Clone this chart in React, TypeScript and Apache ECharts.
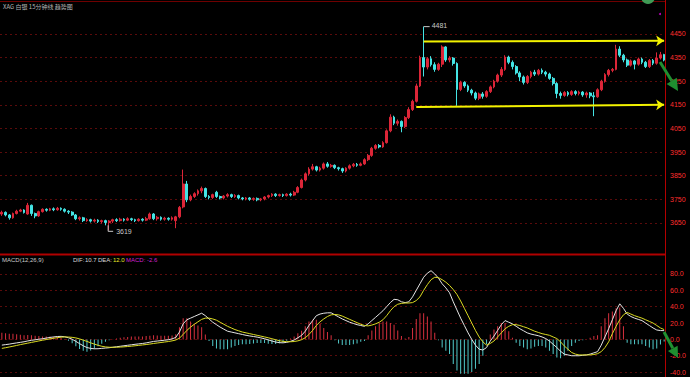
import React, { useEffect, useRef } from "react";
import * as echarts from "echarts";

const titleText = "XAG 白银 15分钟线 趋势图";
const macdTitle = "MACD(12,26,9)";

// [open, close, low, high]
const ohlc: number[][] = [
  [3688,3695,3680,3702],[3695,3684,3678,3699],[3684,3672,3664,3688],[3672,3690,3668,3694],[3690,3700,3686,3706],
  [3700,3705,3696,3710],[3705,3694,3690,3708],[3688,3725,3685,3735],[3725,3690,3680,3728],[3690,3680,3670,3694],
  [3680,3698,3676,3702],[3698,3708,3694,3712],[3708,3704,3698,3712],[3704,3710,3700,3714],[3710,3706,3700,3716],
  [3706,3712,3702,3718],[3712,3708,3702,3716],[3708,3700,3694,3712],[3700,3696,3688,3704],[3696,3684,3680,3700],
  [3684,3668,3662,3688],[3668,3672,3660,3678],[3672,3660,3654,3676],[3660,3664,3655,3670],[3664,3658,3652,3668],
  [3658,3662,3652,3668],[3662,3656,3650,3666],[3656,3660,3648,3664],[3660,3652,3640,3664],[3652,3658,3619,3662],
  [3658,3664,3650,3668],[3664,3660,3654,3670],[3660,3666,3656,3672],[3666,3662,3656,3670],[3662,3668,3658,3674],
  [3668,3664,3658,3672],[3664,3660,3654,3668],[3660,3666,3656,3670],[3666,3662,3656,3670],[3662,3668,3658,3676],
  [3668,3688,3664,3694],[3688,3668,3662,3692],[3668,3674,3660,3680],[3674,3666,3660,3678],[3666,3670,3660,3676],
  [3670,3666,3660,3674],[3666,3672,3660,3678],[3660,3676,3628,3680],[3676,3716,3670,3722],[3718,3815,3712,3876],
  [3815,3748,3738,3828],[3748,3762,3742,3770],[3762,3774,3756,3780],[3774,3786,3766,3792],[3786,3796,3776,3804],
  [3796,3762,3756,3800],[3762,3758,3750,3768],[3758,3770,3752,3774],[3780,3762,3756,3786],[3762,3756,3750,3766],
  [3756,3764,3750,3768],[3764,3770,3758,3776],[3770,3762,3756,3774],[3762,3766,3756,3772],[3766,3756,3750,3770],
  [3756,3752,3746,3760],[3752,3756,3746,3760],[3756,3750,3744,3760],[3750,3754,3744,3758],[3754,3748,3742,3758],
  [3748,3752,3742,3756],[3752,3760,3746,3764],[3760,3766,3754,3770],[3766,3772,3760,3776],[3772,3766,3760,3776],
  [3766,3770,3762,3774],[3770,3766,3760,3774],[3766,3772,3762,3776],[3772,3768,3762,3778],[3768,3780,3764,3786],
  [3780,3800,3776,3806],[3800,3832,3796,3838],[3832,3858,3826,3864],[3858,3878,3850,3886],[3878,3888,3872,3900],
  [3888,3874,3868,3892],[3874,3882,3868,3888],[3882,3900,3876,3906],[3900,3890,3884,3908],[3890,3894,3884,3900],
  [3894,3884,3878,3898],[3884,3880,3872,3888],[3880,3870,3862,3884],[3870,3882,3864,3886],[3882,3892,3876,3898],
  [3892,3898,3886,3904],[3898,3894,3888,3904],[3894,3900,3890,3906],[3900,3918,3896,3924],[3918,3936,3912,3942],
  [3936,3966,3930,3972],[3966,3978,3960,3984],[3978,3972,3966,3984],[3972,3990,3968,3996],[3990,4040,3986,4046],
  [4040,4098,4034,4110],[4098,4072,4064,4104],[4072,4080,4062,4088],[4080,4058,4034,4084],[4058,4096,4052,4102],
  [4096,4130,4090,4140],[4130,4165,4124,4172],[4165,4230,4160,4240],[4230,4350,4225,4358],[4350,4310,4270,4481],
  [4310,4345,4300,4352],[4345,4320,4312,4356],[4320,4300,4290,4330],[4300,4322,4294,4328],[4322,4395,4310,4402],
  [4395,4340,4332,4398],[4340,4348,4330,4356],[4348,4325,4316,4352],[4325,4215,4146,4330],[4215,4245,4208,4252],
  [4245,4230,4222,4250],[4230,4212,4204,4236],[4212,4200,4190,4218],[4200,4178,4170,4206],[4178,4196,4170,4202],
  [4196,4186,4176,4204],[4186,4206,4180,4212],[4206,4226,4200,4232],[4226,4250,4220,4256],[4250,4276,4244,4282],
  [4276,4300,4268,4310],[4300,4352,4294,4360],[4352,4330,4322,4358],[4330,4312,4300,4338],[4312,4285,4278,4318],
  [4285,4268,4250,4292],[4268,4245,4236,4274],[4245,4270,4238,4276],[4270,4288,4262,4294],[4288,4280,4272,4298],
  [4280,4296,4274,4302],[4296,4288,4280,4304],[4288,4280,4270,4294],[4280,4262,4256,4286],[4262,4240,4232,4268],
  [4240,4198,4178,4246],[4198,4190,4176,4206],[4190,4202,4184,4208],[4202,4194,4186,4208],[4194,4206,4188,4212],
  [4206,4198,4190,4212],[4198,4204,4190,4210],[4204,4192,4184,4208],[4192,4200,4180,4206],[4200,4188,4178,4204],
  [4188,4184,4102,4204],[4184,4214,4180,4220],[4214,4250,4208,4256],[4250,4278,4244,4284],[4278,4296,4270,4302],
  [4296,4300,4288,4306],[4300,4386,4296,4404],[4386,4360,4352,4398],[4360,4340,4330,4366],[4340,4318,4310,4346],
  [4318,4336,4312,4342],[4336,4322,4300,4340],[4322,4344,4316,4350],[4344,4330,4322,4350],[4330,4312,4306,4336],
  [4312,4338,4306,4344],[4338,4326,4318,4344],[4326,4348,4320,4372],[4348,4362,4342,4374],[4362,4340,4334,4366],
];

const dif: number[] = [
  -7, -6.4, -5.8, -5, -4.3, -3.6, -2.9, -1.9, -1.1, -0.5, 0.2, 0.8, 1.6, 2.4, 3, 3.5, 3.7,
  3.2, 2, 0.2, -2.4, -5.2, -7.8, -10, -11, -11.5, -11.4, -11, -10.6, -10.2,
  -9.6, -9, -8.4, -7.8, -7.2, -6.6, -6, -5.5, -5, -4.3, -3.4, -2.5, -2, -1.5, -1, -0.4, 0.6,
  2.4, 9, 19, 24, 26, 28, 30, 32,
  29, 25, 21, 18, 15, 12.5, 10, 9, 8, 7, 6, 5, 4.2, 3.5, 2.8,
  1.8, 0.8, -0.6, -2, -3.2, -4, -4.2, -3.6, -2.4, -0.8, 2, 4.9,
  10, 17, 23, 29, 31, 32, 32.5, 32.5, 30, 27.5, 25, 23, 21, 19.5, 18, 17, 16,
  19, 23, 27, 31, 35, 40, 45, 49, 48.5, 46, 45, 46, 52, 60, 68,
  76, 81, 84, 80, 75, 68, 63, 57, 46, 36, 26, 17, 8, 0, -7, -12, -13, -10, -2, 4, 11, 18, 23, 21, 19,
  16, 13, 10.5, 8, 6.5, 5.5, 4.5, 3, 1, -2, -6, -10, -14.5, -18, -19, -20, -20, -20, -19.5, -19, -18, -16.5, -15,
  -7, 3, 13, 24, 35, 43.5, 38, 31, 28, 26, 24.5, 23, 20, 17, 14, 11.5, 10.8, 10.7,
];

const dea: number[] = [
  -11, -10.2, -9.3, -8.4, -7.4, -6.4, -5.5, -4.6, -3.7, -2.8, -1.9, -1, -0.2, 0.6, 1.4, 2.1, 2.7,
  3, 2.9, 2.5, 1.8, 0.6, -0.9, -2.5, -4.2, -5.8, -7.2, -8.4, -9.2, -9.6,
  -9.7, -9.6, -9.4, -9.1, -8.7, -8.3, -7.8, -7.3, -6.8, -6.3, -5.7, -5, -4.4, -3.8, -3.2, -2.6, -1.8,
  -0.8, 1.5, 6, 11, 15, 18.5, 21.5, 24.5,
  26, 26, 25, 23.5, 21, 18.5, 16, 14, 12, 10.5, 9, 8, 7, 6, 5,
  4, 3, 2, 0.8, -0.4, -1.6, -2.4, -2.8, -2.9, -2.6, -1.8, -0.4,
  2, 6, 11, 17, 21.5, 25, 28, 30, 30.5, 30, 28.5, 26.5, 24.5, 22.5, 20.5, 18.5, 17,
  16.5, 17.5, 19, 21, 24, 29, 35, 40, 43, 44, 44.5, 44.5, 45, 47.5, 52,
  60, 67, 73, 76, 75.5, 73, 70, 66, 61, 55, 47, 38, 29, 20, 11, 3, -3, -7, -5, -2, 3, 8, 13, 16, 18,
  18, 17, 15.5, 14, 12, 10, 8.5, 7, 6, 5, 3, 1, -3, -8, -12, -16, -18, -19, -19, -19, -19, -18.5, -17.5,
  -15, -10, -3, 7, 16, 24, 30, 33, 31, 29, 27.5, 26, 24, 22, 20, 17, 14, 12,
];

const hist: number[] = [
  8, 7.6, 7, 6.8, 6.2, 5.6, 5.2, 5.4, 5.2, 4.6, 4.2, 3.6, 3.6, 3.6, 3.2, 2.8, 2,
  0.4, -1.8, -4.6, -8.4, -11.6, -13.8, -15, -13.6, -11.4, -8.4, -5.2, -2.8, -1.2,
  0.2, 1.2, 2, 2.6, 3, 3.4, 3.6, 3.6, 3.6, 4, 4.6, 5, 4.8, 4.6, 4.4, 4.4, 4.8,
  6.4, 15, 26, 26, 22, 19, 17, 15,
  6, -2, -8, -11, -12, -12, -12, -10, -8, -7, -6, -6, -5.6, -5, -4.4,
  -4.4, -4.4, -5.2, -5.6, -5.6, -4.8, -3.6, -1.6, 1, 3.6, 7.6, 10.6,
  16, 22, 24, 24, 19, 14, 9, 5, -1, -5, -7, -7, -7, -6, -5, -3, -2,
  5, 11, 16, 20, 22, 22, 20, 18, 11, 4, 1, 3, 14, 25, 32,
  32, 28, 22, 8, -1, -10, -14, -18, -30, -38, -42, -42, -42, -40, -36, -30, -20, -6, 6, 12, 16, 20, 20, 10, 2,
  -4, -8, -10, -12, -11, -9, -8, -8, -10, -14, -18, -22, -23, -20, -14, -8, -4, -2, -1, 0, 2, 4, 5,
  16, 26, 32, 34, 38, 39, 16, -4, -6, -6, -6, -6, -8, -10, -12, -11, -6.4, -2.6,
];

const priceTicks = [3650, 3750, 3850, 3950, 4050, 4150, 4250, 4350, 4450];
const macdTicks = [-40, -20, 0, 20, 40, 60, 80];
const channelTop = [[114, 4418], [179, 4421]];
const channelBottom = [[112, 4141], [179, 4150]];

const UP = "#dc2638";
const DOWN = "#44e4e4";
const AXIS_RED = "#ff2e2e";
const GRID_RED = "#5a0b0b";

export default function App() {
  const ref = useRef<HTMLDivElement>(null);

  useEffect(() => {
    const el = ref.current!;
    const chart = echarts.init(el, null, { renderer: "svg" });
    const categories = ohlc.map((_, i) => String(i));

    const labelBase = {
      color: AXIS_RED,
      fontSize: 7,
      fontFamily: "Liberation Sans",
      margin: 4,
    };
    const splitLine = { show: true, lineStyle: { color: GRID_RED, type: [2, 3], width: 1 } };

    chart.setOption({
      animation: false,
      backgroundColor: "#000",
      grid: [
        { left: 0, right: 24, top: 3, height: 250 },
        { left: 0, right: 24, top: 256, height: 121 },
      ],
      xAxis: [
        { type: "category", data: categories, gridIndex: 0, show: false, boundaryGap: true },
        { type: "category", data: categories, gridIndex: 1, show: false, boundaryGap: true },
      ],
      yAxis: [
        {
          type: "value",
          position: "right",
          gridIndex: 0,
          min: 3523,
          max: 4581,
          axisLine: { show: false },
          axisTick: { show: false, customValues: priceTicks },
          axisLabel: { ...labelBase, customValues: priceTicks, formatter: (v: number) => String(v) },
          splitLine,
        },
        {
          type: "value",
          position: "right",
          gridIndex: 1,
          min: -46,
          max: 102,
          axisLine: { show: false },
          axisTick: { show: false, customValues: macdTicks },
          axisLabel: { ...labelBase, customValues: macdTicks, formatter: (v: number) => v.toFixed(1) },
          splitLine,
        },
      ],
      series: [
        {
          type: "candlestick",
          xAxisIndex: 0,
          yAxisIndex: 0,
          data: ohlc,
          barWidth: "62%",
          itemStyle: { color: UP, color0: DOWN, borderColor: UP, borderColor0: DOWN, borderWidth: 1 },
          markLine: {
            silent: true,
            symbol: ["none", "arrow"],
            symbolSize: 8,
            label: { show: false },
            lineStyle: { color: "#f2f200", width: 2, type: "solid" },
            emphasis: { disabled: true },
            data: [
              [
                { coord: [categories[channelTop[0][0]], channelTop[0][1]] },
                { coord: [categories[channelTop[1][0]], channelTop[1][1]] },
              ],
              [
                { coord: [categories[channelBottom[0][0]], channelBottom[0][1]] },
                { coord: [categories[channelBottom[1][0]], channelBottom[1][1]] },
              ],
            ],
          },
        },
        {
          type: "bar",
          xAxisIndex: 1,
          yAxisIndex: 1,
          data: hist,
          barWidth: 1,
          itemStyle: { color: (p: any) => (p.value >= 0 ? "#d8303e" : "#52cccc") },
        },
        {
          type: "line",
          xAxisIndex: 1,
          yAxisIndex: 1,
          data: dif,
          symbol: "none",
          lineStyle: { color: "#e4e4e4", width: 1 },
        },
        {
          type: "line",
          xAxisIndex: 1,
          yAxisIndex: 1,
          data: dea,
          symbol: "none",
          lineStyle: { color: "#dada22", width: 1 },
        },
      ],
    });

    const highs = ohlc.map((r) => r[3]);
    const lows = ohlc.map((r) => r[2]);
    const hiVal = Math.max(...highs);
    const loVal = Math.min(...lows);
    const hiIdx = highs.indexOf(hiVal);
    const loIdx = lows.indexOf(loVal);
    const [hx, hy] = chart.convertToPixel({ gridIndex: 0 }, [hiIdx, hiVal]) as number[];
    const [lx, ly] = chart.convertToPixel({ gridIndex: 0 }, [loIdx, loVal]) as number[];

    const last = ohlc.length - 1;
    const small = (text: string, x: number, y: number, fill: string, size = 6, family = "Liberation Sans") => ({
      type: "text",
      x,
      y,
      z: 50,
      style: { text, fill, fontSize: size, fontFamily: family, verticalAlign: "middle", align: "left" },
    });

    const arrow = (x1: number, y1: number, tx: number, ty: number, len: number, hw: number) => {
      const dx = tx - x1;
      const dy = ty - y1;
      const n = Math.sqrt(dx * dx + dy * dy);
      const ux = dx / n;
      const uy = dy / n;
      const bx = tx - ux * len;
      const by = ty - uy * len;
      return [
        {
          type: "line",
          z: 100,
          shape: { x1, y1, x2: bx, y2: by },
          style: { stroke: "#1f8f30", lineWidth: 3 },
        },
        {
          type: "polygon",
          z: 100,
          shape: {
            points: [
              [tx, ty],
              [bx - uy * hw, by + ux * hw],
              [bx + uy * hw, by - ux * hw],
            ],
          },
          style: { fill: "#1f8f30" },
        },
      ];
    };

    chart.setOption({
      graphic: [
        { type: "line", z: 40, shape: { x1: 0, y1: 1.5, x2: 666, y2: 1.5 }, style: { stroke: "#6e0000", lineWidth: 1 } },
        { type: "rect", z: 40, shape: { x: 0, y: 253.5, width: 666, height: 2 }, style: { fill: "#b00000" } },
        { type: "line", z: 40, shape: { x1: 665.5, y1: 0, x2: 665.5, y2: 377 }, style: { stroke: "#b40000", lineWidth: 1 } },
        small(titleText, 3, 6, "#b4b4b4", 6, "Noto Sans CJK SC"),
        small(macdTitle, 2, 260, "#c8c8c8"),
        small("DIF:", 73, 260, "#d8d8d8"),
        small(dif[last].toFixed(1), 85, 260, "#d8d8d8"),
        small("DEA:", 98, 260, "#d8d8d8"),
        small(dea[last].toFixed(1), 113, 260, "#e6e62a"),
        small("MACD:", 126, 260, "#d020d0"),
        small(hist[last].toFixed(1), 147, 260, "#d020d0"),
        { type: "line", z: 50, shape: { x1: hx, y1: hy, x2: hx + 6, y2: hy }, style: { stroke: "#c8c8c8", lineWidth: 1 } },
        small(String(hiVal), hx + 8, hy - 1, "#c8c8c8", 7),
        {
          type: "polyline",
          z: 50,
          shape: { points: [[lx - 1, ly - 5], [lx - 1, ly + 1], [lx + 4, ly + 1]] },
          style: { stroke: "#c8c8c8", lineWidth: 1, fill: "none" },
        },
        small(String(loVal), lx + 7, ly + 1, "#c8c8c8", 7),
        { type: "circle", z: 60, shape: { cx: 648, cy: -3, r: 7 }, style: { fill: "#3f9a55" } },
        { type: "circle", z: 60, shape: { cx: 660, cy: 14, r: 1 }, style: { fill: "#c000c0" } },
        ...arrow(660, 62, 678, 91, 12, 6),
        ...arrow(664, 332, 678, 358, 11, 5.5),
      ],
    });

    return () => chart.dispose();
  }, []);

  return (
    <div
      ref={ref}
      style={{ position: "fixed", left: 0, top: 0, width: 690, height: 377, background: "#000" }}
    />
  );
}
